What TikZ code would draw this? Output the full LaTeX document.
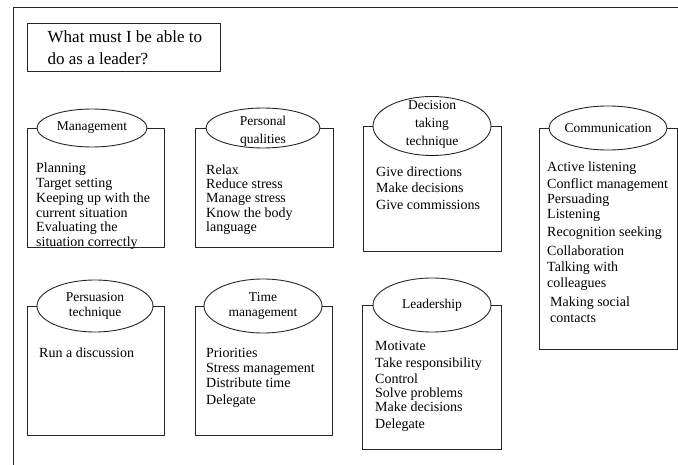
\documentclass[tikz,border=0pt]{standalone}
\usepackage{fontspec}
\setmainfont{Liberation Serif}
\usetikzlibrary{shapes.geometric}
\tikzset{
  ln/.style={draw=black!85, line width=0.9pt},
  ell/.style={ellipse, draw=black!85, line width=0.9pt, inner sep=0pt},
  item/.style={anchor=base west, inner sep=0pt, font=\fontsize{14}{15}\selectfont},
  head/.style={align=center, inner sep=0pt, font=\fontsize{13.5}{#1}\selectfont},
  head/.default=15,
}
% #1 name, #2 x1, #3 ytop, #4 x2, #5 ybottom, #6 ellipse cx, #7 rx, #8 ry
\newcommand\mycard[8]{%
  \coordinate (#1nw) at (#2,#3);
  \coordinate (#1se) at (#4,#5);
  \node[ell, minimum width=2*#7 pt, minimum height=2*#8 pt] (#1e) at (#6,#3) {};
  \draw[ln] (#1e.west) -- (#1e.west -| #1nw) -- (#1nw |- #1se) -- (#1se)
            -- (#1e.east -| #1se) -- (#1e.east);
}
\begin{document}
\begin{tikzpicture}[x=1pt, y=-1pt]
\useasboundingbox (0,0) rectangle (678,465);
% outer frame
\coordinate (fbl) at (13,465);
\coordinate (ftl) at (13,7);
\coordinate (ftr) at (678,7);
\draw[ln] (fbl) -- (ftl) -- (ftr);
% title
\node[ln, draw, anchor=north west, minimum width=193pt, minimum height=48pt, inner sep=0pt] (tbox) at (27,23) {};
\node[anchor=west, align=left, inner sep=0pt, font=\fontsize{17}{22}\selectfont] (ttext) at (47.5,47.5)
  {What must I be able to\\do as a leader?};

% cards
\mycard{mg}{27}{128}{164}{247}{92}{55}{19}
\mycard{pq}{195}{128}{333}{247}{263}{57}{20}
\mycard{dt}{363}{126}{501}{251}{432}{59}{29.5}
\mycard{cm}{539}{128}{677}{349}{608}{59}{22}
\mycard{pt}{27}{306}{164}{435}{95}{58}{26}
\mycard{tm}{195}{306}{332}{435}{263}{59}{27}
\mycard{ld}{362}{305}{501}{449}{432}{59}{27}

% headings
\node[head] (mgh) at (mge) {Management};
\node[head=18] (pqh) at (263,131) {Personal\\qualities};
\node[head=18] (dth) at (432,124.5) {Decision\\taking\\technique};
\node[head] (cmh) at (cme) {Communication};
\node[head] (pth) at (95,306) {Persuasion\\technique};
\node[head] (tmh) at (263,306) {Time\\management};
\node[head] (ldh) at (lde) {Leadership};

% items
\foreach \y/\t [count=\i] in {168/Planning, 183/Target setting, 198/Keeping up with the,
   213/current situation, 227/Evaluating the, 242/situation correctly}
  \node[item, name=mgi\i] at (36,{\y+5}) {\t};
\foreach \y/\t [count=\i] in {170/Relax, 184/Reduce stress, 198/Manage stress,
   213/Know the body, 227/language}
  \node[item, name=pqi\i] at (206,{\y+5}) {\t};
\foreach \y/\t [count=\i] in {172/Give directions, 188/Make decisions, 205/Give commissions}
  \node[item, name=dti\i] at (376,{\y+5}) {\t};
\foreach \y/\t [count=\i] in {167/Active listening, 184/Conflict management, 199/Persuading,
   214/Listening, 232/Recognition seeking, 251/Collaboration, 267/Talking with, 283/colleagues}
  \node[item, name=cmi\i] at (547,{\y+5}) {\t};
\foreach \y/\t [count=\i] in {302/Making social, 318/contacts}
  \node[item, name=cmj\i] at (550,{\y+5}) {\t};
\node[item] (pti1) at (39,357) {Run a discussion};
\foreach \y/\t [count=\i] in {352/Priorities, 367/Stress management, 382/Distribute time, 399/Delegate}
  \node[item, name=tmi\i] at (206,{\y+5}) {\t};
\foreach \y/\t [count=\i] in {345/Motivate, 362/Take responsibility, 378/Control,
   392/Solve problems, 406/Make decisions, 423/Delegate}
  \node[item, name=ldi\i] at (375,{\y+5}) {\t};
\end{tikzpicture}
\end{document}
